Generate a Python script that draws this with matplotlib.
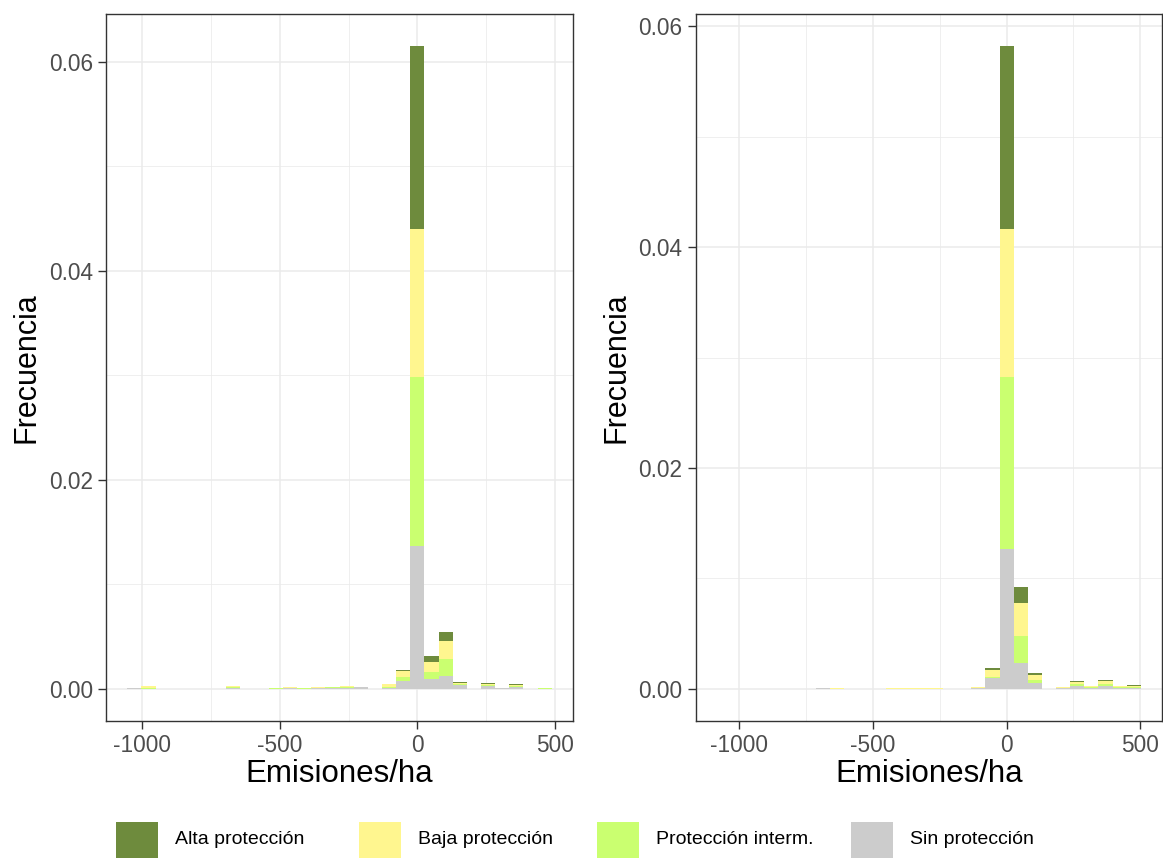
import matplotlib

matplotlib.use("Agg")
import matplotlib.pyplot as plt
import numpy as np
from matplotlib.patches import Rectangle

plt.rcParams["font.family"] = ["Liberation Sans", "DejaVu Sans"]

# series, stacked bottom -> top
SERIES = ["Sin protección", "Protección interm.", "Baja protección", "Alta protección"]
COLOURS = ["#CCCCCC", "#CAFF70", "#FFF68F", "#6E8B3D"]
LEGEND_ORDER = ["Alta protección", "Baja protección", "Protección interm.", "Sin protección"]

# 30 histogram bins, index -20 .. 9 (bin centred on index * width)
BIN_INDEX = np.arange(-20, 10)
LEFT_BINWIDTH = 51.4
RIGHT_BINWIDTH = 52.9

# left panel: frequency per bin and class
left_sin = [0.00005, 0, 0, 0, 0, 0, 0, 0.0001, 0, 0, 0, 0.00005, 0, 0.00005, 0.0001,
            0.0001, 0.0002, 0, 0.0001, 0.0008, 0.0137, 0.0009, 0.0012, 0.0004, 0,
            0.0003, 0.0001, 0.0002, 0, 0]
left_int = [0, 0.0001, 0, 0, 0, 0, 0, 0.0001, 0, 0, 0.00005, 0.00005, 0.00005, 0.00005, 0.00005,
            0.0001, 0, 0, 0.0001, 0.0003, 0.0161, 0.0007, 0.0017, 0.0001, 0,
            0.0001, 0, 0.0001, 0, 0.00005]
left_baja = [0, 0.00015, 0, 0, 0, 0, 0, 0.0001, 0, 0, 0.00005, 0.00005, 0.00005, 0.00005, 0.00005,
             0.0001, 0, 0, 0.0003, 0.0006, 0.0142, 0.0010, 0.0017, 0.0001, 0,
             0.0001, 0, 0.0001, 0, 0.00005]
left_alta = [0.00005, 0.00005, 0, 0, 0, 0, 0, 0, 0, 0, 0, 0.00005, 0, 0, 0,
             0, 0, 0, 0, 0.0001, 0.0175, 0.0005, 0.0008, 0.0001, 0,
             0.00005, 0, 0.00003, 0, 0]

# right panel
right_sin = [0, 0, 0, 0, 0, 0, 0, 0.00005, 0, 0, 0, 0, 0, 0, 0,
             0, 0, 0, 0.0001, 0.0010, 0.0127, 0.0023, 0.0005, 0, 0.00005,
             0.0003, 0.0001, 0.0003, 0.0001, 0.0001]
right_int = [0, 0, 0, 0, 0, 0, 0, 0, 0.00002, 0, 0, 0, 0.00002, 0.00002, 0.00002,
             0.00002, 0, 0, 0, 0.0001, 0.0155, 0.0025, 0.0003, 0, 0.00005,
             0.0001, 0.0001, 0.0001, 0.0001, 0.0001]
right_baja = [0, 0.00003, 0, 0, 0, 0, 0, 0, 0.00002, 0, 0, 0, 0.00003, 0.00003, 0.00003,
              0.00003, 0, 0, 0.0001, 0.0006, 0.0134, 0.0030, 0.0005, 0, 0.00005,
              0.0002, 0.0001, 0.0003, 0.0001, 0.0001]
right_alta = [0, 0, 0, 0, 0, 0, 0, 0.00005, 0, 0, 0, 0, 0, 0, 0,
              0, 0, 0, 0, 0.0002, 0.0166, 0.0014, 0.00015, 0, 0.00005,
              0.0001, 0, 0.0001, 0, 0.00005]

X_TICKS = [-1000, -500, 0, 500]
X_MINOR = [-750, -250, 250]
Y_TICKS = [0.0, 0.02, 0.04, 0.06]
Y_MINOR = [0.01, 0.03, 0.05]

W, H = 1163, 861
fig = plt.figure(figsize=(W / 100, H / 100), dpi=100)

GRID = "#EBEBEB"
DARK = "#333333"
TICK_TXT = "#4D4D4D"


def panel(rect, binwidth, stacks):
    ax = fig.add_axes(rect)
    centres = BIN_INDEX * binwidth
    bottom = np.zeros(len(centres))
    for vals, col in zip(stacks, COLOURS):
        vals = np.asarray(vals, dtype=float)
        ax.bar(centres, vals, width=binwidth, bottom=bottom, color=col,
               linewidth=0, zorder=2)
        bottom += vals
    lo, hi = centres[0] - binwidth / 2, centres[-1] + binwidth / 2
    pad = 0.05 * (hi - lo)
    ax.set_xlim(lo - pad, hi + pad)
    top = bottom.max()
    ax.set_ylim(-0.05 * top, 1.05 * top)

    ax.set_xticks(X_TICKS)
    ax.set_xticklabels([str(t) for t in X_TICKS])
    ax.set_xticks(X_MINOR, minor=True)
    ax.set_yticks(Y_TICKS)
    ax.set_yticklabels([f"{t:.2f}" for t in Y_TICKS])
    ax.set_yticks(Y_MINOR, minor=True)
    ax.grid(which="major", color=GRID, lw=1.1, zorder=0)
    ax.grid(which="minor", color=GRID, lw=0.55, zorder=0)
    ax.set_axisbelow(True)
    ax.tick_params(which="major", length=5.5, width=1.0, color=DARK,
                   labelsize=16.3, labelcolor=TICK_TXT, pad=4)
    ax.tick_params(which="minor", length=0)
    for s in ax.spines.values():
        s.set_color(DARK)
        s.set_linewidth(1.0)
    ax.set_xlabel("Emisiones/ha", fontsize=22.5, labelpad=1)
    ax.set_ylabel("Frecuencia", fontsize=22, labelpad=5)
    return ax


bot = (H - 721) / H
hgt = 707 / H
panel([106 / W, bot, 467 / W, hgt], LEFT_BINWIDTH,
      [left_sin, left_int, left_baja, left_alta])
panel([695.7 / W, bot, 466.3 / W, hgt], RIGHT_BINWIDTH,
      [right_sin, right_int, right_baja, right_alta])

# legend along the bottom
key_x = [116, 359, 597, 851]
col_of = dict(zip(SERIES, COLOURS))
for x0, name in zip(key_x, LEGEND_ORDER):
    fig.add_artist(Rectangle((x0 / W, (H - 858) / H), 42 / W, 36 / H,
                             transform=fig.transFigure, color=col_of[name], lw=0))
    fig.text((x0 + 59) / W, (H - 840) / H, name, fontsize=14, color="black",
             ha="left", va="center")

fig.savefig("out.png", dpi=100)
